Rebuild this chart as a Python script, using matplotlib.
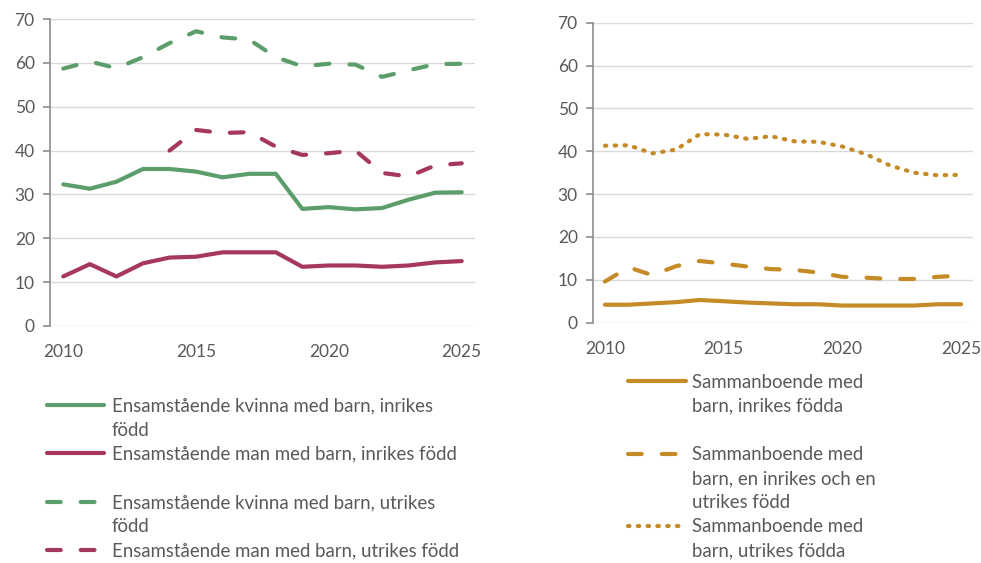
import numpy as np
import matplotlib
matplotlib.use("Agg")
import matplotlib.pyplot as plt
from matplotlib.lines import Line2D

plt.rcParams['font.family'] = ['Lato', 'DejaVu Sans']

years = list(range(2010, 2026))
nan = np.nan

kvinna_inrikes = [32.3, 31.3, 32.9, 35.8, 35.8, 35.2, 33.9, 34.7, 34.7, 26.7, 27.1, 26.6, 26.9, 28.8, 30.4, 30.5]
man_inrikes = [11.3, 14.1, 11.3, 14.3, 15.6, 15.8, 16.8, 16.8, 16.8, 13.5, 13.8, 13.8, 13.5, 13.8, 14.5, 14.8]
kvinna_utrikes = [58.7, 60.3, 58.8, 61.3, 64.5, 67.2, 65.8, 65.3, 61.3, 59.2, 59.8, 59.6, 56.8, 58.3, 59.7, 59.8]
man_utrikes = [nan, nan, nan, nan, 40.0, 44.7, 44.0, 44.2, 40.9, 39.0, 39.4, 40.0, 34.9, 34.1, 36.6, 37.1]

samman_inrikes = [4.2, 4.2, 4.5, 4.8, 5.3, 5.0, 4.7, 4.5, 4.3, 4.3, 4.0, 4.0, 4.0, 4.0, 4.3, 4.3]
samman_blandat = [9.6, 12.9, 11.1, 13.2, 14.4, 13.8, 13.1, 12.5, 12.3, 11.7, 10.7, 10.5, 10.2, 10.2, 10.7, 11.0]
samman_utrikes = [41.3, 41.4, 39.5, 40.4, 44.0, 43.9, 42.9, 43.5, 42.3, 42.2, 41.1, 39.3, 36.7, 35.0, 34.4, 34.5]

labels_left = ["Ensamstående kvinna med barn, inrikes\nfödd",
               "Ensamstående man med barn, inrikes född",
               "Ensamstående kvinna med barn, utrikes\nfödd",
               "Ensamstående man med barn, utrikes född"]
labels_right = ["Sammanboende med\nbarn, inrikes födda",
                "Sammanboende med\nbarn, en inrikes och en\nutrikes född",
                "Sammanboende med\nbarn, utrikes födda"]

GREEN = "#5c9e6b"
MAGENTA = "#a6375f"
GOLD = "#c48b26"
TXT = "#595959"
GRID = "#d9d9d9"
AX = "#8c8c8c"
LW = 3.0
DASH = (0, (3.3, 4.8))
DOT = (0, (0.35, 2.0))
FS_LEG = 13.4
FS_TICK = 12.5

fig = plt.figure(figsize=(9.81, 5.63), dpi=100)
W, H = 981, 563

def px_axes(x0, y0, x1, y1):
    return fig.add_axes([x0 / W, 1 - y1 / H, (x1 - x0) / W, (y1 - y0) / H])

axL = px_axes(50, 19, 475, 326)
axR = px_axes(593, 22.7, 973, 322.7)

def style(ax):
    ax.set_xlim(2009.5, 2025.5)
    ax.set_ylim(0, 70)
    ax.set_yticks(range(0, 71, 10))
    ax.set_xticks([2010, 2015, 2020, 2025])
    ax.grid(axis='y', color=GRID, lw=1.0)
    ax.set_axisbelow(True)
    for s in ['top', 'right', 'bottom']:
        ax.spines[s].set_visible(False)
    ax.spines['left'].set_color(AX)
    ax.spines['left'].set_linewidth(1.2)
    ax.tick_params(axis='y', length=5, color=AX, width=1.2, labelsize=FS_TICK, labelcolor=TXT, pad=6)
    ax.tick_params(axis='x', length=0, labelsize=FS_TICK, labelcolor=TXT, pad=13)

style(axL)
style(axR)

axL.plot(years, kvinna_inrikes, color=GREEN, lw=LW, solid_capstyle='round')
axL.plot(years, man_inrikes, color=MAGENTA, lw=LW, solid_capstyle='round')
axL.plot(years, kvinna_utrikes, color=GREEN, lw=LW, ls=DASH, dash_capstyle='round')
axL.plot(years, man_utrikes, color=MAGENTA, lw=LW, ls=DASH, dash_capstyle='round')

axR.plot(years, samman_inrikes, color=GOLD, lw=LW, solid_capstyle='round')
axR.plot(years, samman_blandat, color=GOLD, lw=LW, ls=DASH, dash_capstyle='round')
axR.plot(years, samman_utrikes, color=GOLD, lw=LW, ls=DOT, dash_capstyle='round')

# manual legends (handle aligned with first text line)
def legend_entry(x0, x1, xt, y, color, ls, text):
    fig.add_artist(Line2D([x0 / W, x1 / W], [1 - y / H] * 2, color=color, lw=LW, ls=ls,
                          solid_capstyle='round', dash_capstyle='round'))
    for k, line in enumerate(text.split("\n")):
        base = y + 6.5 + 24 * k
        fig.text(xt / W, 1 - base / H, line, color=TXT, fontsize=FS_LEG,
                 va='baseline', ha='left')

left_styles = [(GREEN, '-'), (MAGENTA, '-'), (GREEN, DASH), (MAGENTA, DASH)]
for i, (lab, (c, ls)) in enumerate(zip(labels_left, left_styles)):
    legend_entry(47, 104, 112, 405 + 48.3 * i, c, ls, lab)

right_styles = [(GOLD, '-'), (GOLD, DASH), (GOLD, DOT)]
for i, (lab, (c, ls)) in enumerate(zip(labels_right, right_styles)):
    legend_entry(628, 686, 692, 381 + 72.5 * i, c, ls, lab)

fig.savefig("out.png", dpi=100)
